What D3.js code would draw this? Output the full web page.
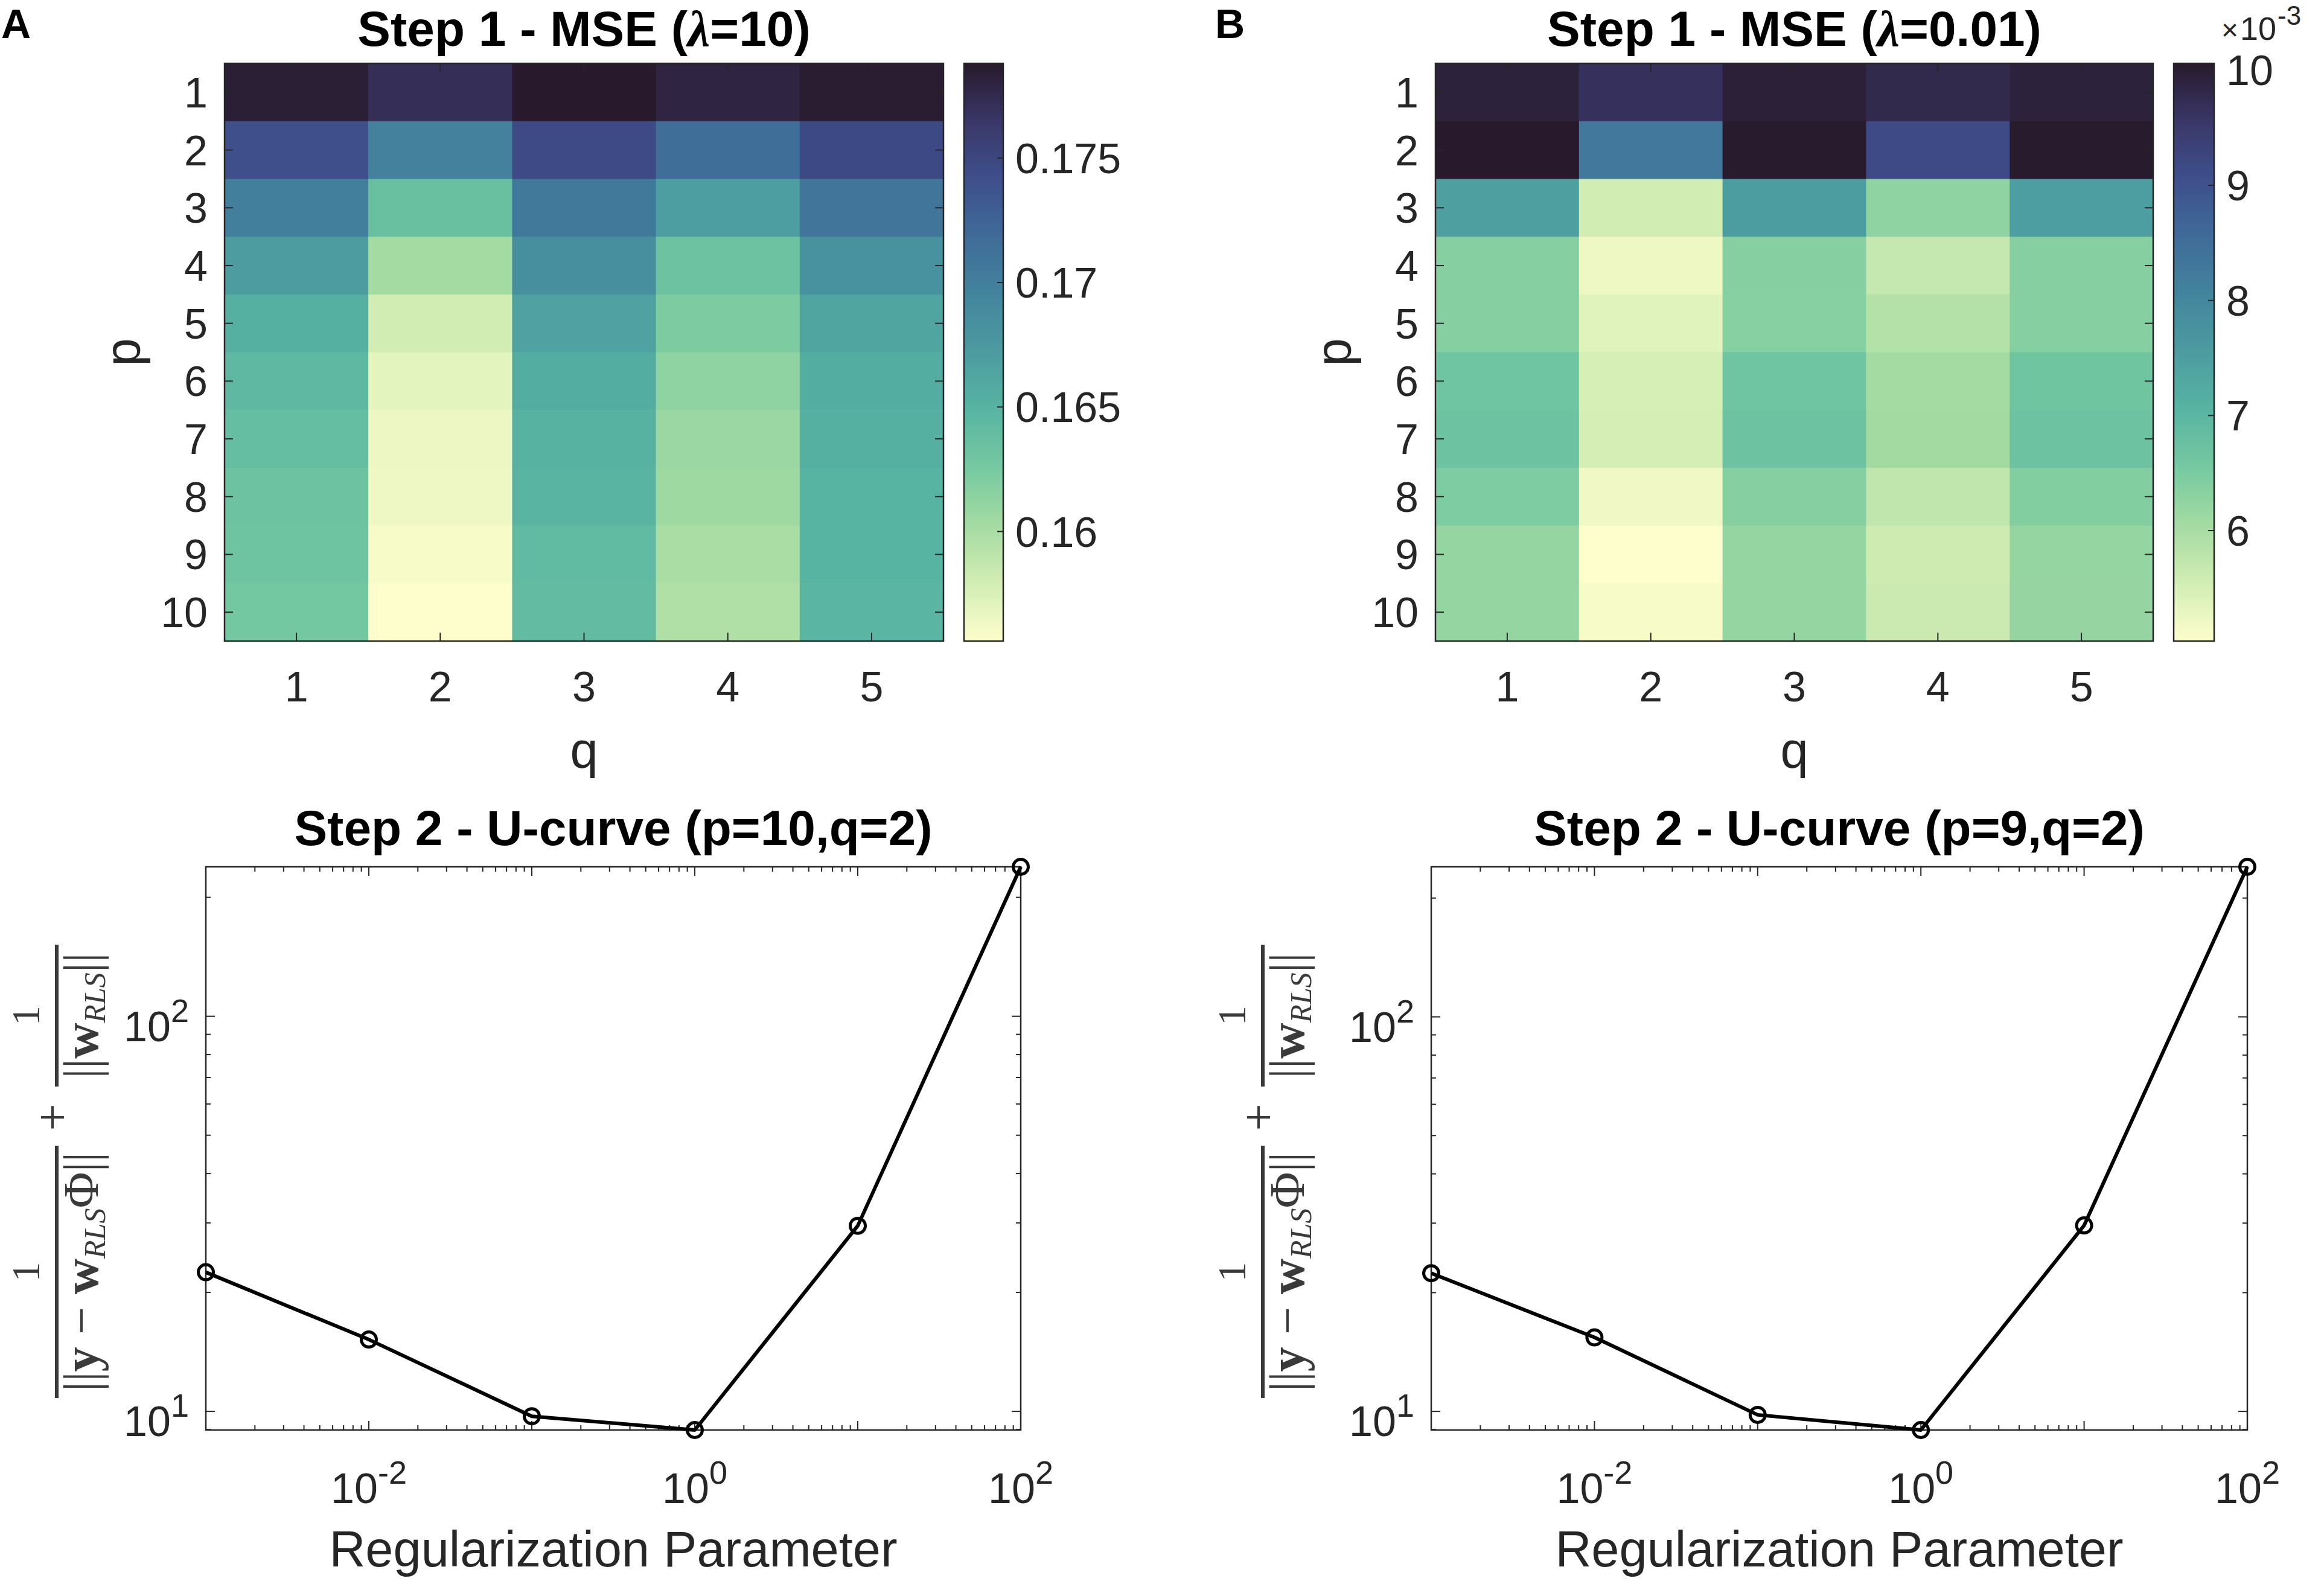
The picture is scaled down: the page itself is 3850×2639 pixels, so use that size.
<!DOCTYPE html>
<html>
<head>
<meta charset="utf-8">
<script src="https://cdn.jsdelivr.net/npm/d3@7"></script>
<style>
  body { margin: 0; background: #fff; }
  svg { display: block; }
  text { font-family: "Liberation Sans", Arial, sans-serif; fill: #262626; }
  text.serif, tspan.serif { font-family: "Liberation Serif", "DejaVu Serif", serif; }
</style>
</head>
<body>
<svg id="figura" width="3850" height="2639"></svg>
<script>
// ---------------- Dados ----------------
const pValores = [1, 2, 3, 4, 5, 6, 7, 8, 9, 10];
const qValores = [1, 2, 3, 4, 5];

// MSE passo 1, lambda = 10 (linhas p, colunas q)
const mseA = [
  [0.1784, 0.1771, 0.1788, 0.1779, 0.1786],
  [0.1742, 0.1698, 0.1746, 0.1716, 0.1747],
  [0.1700, 0.1636, 0.1705, 0.1670, 0.1708],
  [0.1672, 0.1603, 0.1685, 0.1633, 0.1682],
  [0.1653, 0.1579, 0.1666, 0.1622, 0.1663],
  [0.1644, 0.1570, 0.1656, 0.1613, 0.1656],
  [0.1638, 0.1565, 0.1651, 0.1607, 0.1653],
  [0.1633, 0.1564, 0.1648, 0.1605, 0.1649],
  [0.1632, 0.1560, 0.1642, 0.1600, 0.1649],
  [0.1628, 0.1556, 0.1640, 0.1596, 0.1647]
];

// MSE passo 1, lambda = 0.01 (em unidades de 10^-3)
const mseB = [
  [9.93, 9.66, 9.96, 9.78, 9.93],
  [10.06, 8.29, 10.05, 9.16, 10.04],
  [7.47, 5.54, 7.53, 6.26, 7.50],
  [6.38, 5.22, 6.38, 5.69, 6.38],
  [6.38, 5.37, 6.36, 5.87, 6.38],
  [6.67, 5.49, 6.67, 6.04, 6.65],
  [6.69, 5.52, 6.72, 6.07, 6.69],
  [6.46, 5.19, 6.38, 5.74, 6.40],
  [6.21, 5.04, 6.21, 5.59, 6.21],
  [6.21, 5.12, 6.21, 5.62, 6.20]
];

const ticksCorA = [0.16, 0.165, 0.17, 0.175];
const ticksCorB = [6, 7, 8, 9, 10];

// Passo 2 - curva U
const lambdas = [1e-3, 1e-2, 1e-1, 1, 10, 100];
const ucurvaA = [22.5, 15.2, 9.72, 8.97, 29.5, 239];
const ucurvaB = [22.4, 15.4, 9.8, 8.97, 29.6, 240];
const rotulosX = [-2, 0, 2];   // expoentes com rótulo no eixo x
const rotulosY = [1, 2];       // expoentes com rótulo no eixo y

// Mapa de cores (aproximação do cmocean "deep")
const mapaT = [0, 0.1, 0.2, 0.3, 0.4, 0.5, 0.6, 0.7, 0.8, 0.9, 1];
const mapaCores = ['#fdfecc', '#d2edb4', '#a4dba2', '#76c9a1', '#58b4a2', '#4c9ca0',
                   '#43849d', '#3f6b98', '#3e4f8c', '#3a3768', '#281a2c'];

const corDeep = d3.scaleLinear().domain(mapaT).range(mapaCores)
  .interpolate(d3.interpolateRgb).clamp(true);

const svg = d3.select('#figura');
const corEixo = '#262626';
const fonteTick = 70;
const fonteRotulo = 83;

// ---------------- Funções auxiliares ----------------
function titulo(cx, y, antes, italico, depois) {
  let t = svg.append('text')
    .attr('x', cx).attr('y', y)
    .attr('text-anchor', 'middle')
    .attr('font-size', 82)
    .attr('font-weight', 'bold')
    .style('fill', '#000');
  t.append('tspan').text(antes);
  if (italico) {
    t.append('tspan').attr('class', 'serif').attr('font-size', 84)
      .attr('font-style', 'italic').text(italico);
  }
  if (depois) t.append('tspan').text(depois);
}

// texto 10^e
function potencia(g, x, y, expo, ancora) {
  let t = g.append('text')
    .attr('x', x).attr('y', y)
    .attr('text-anchor', ancora)
    .attr('font-size', fonteTick);
  t.append('tspan').text('10');
  t.append('tspan').attr('font-size', 54).attr('dy', -32).text(expo);
}

// ---------------- Mapa de calor ----------------
function heatmap(cfg) {
  const { x0, x1, y0, y1, dados, cb0, cb1, ticks, fmt } = cfg;
  const g = svg.append('g');

  const x = d3.scaleBand().domain(qValores).range([x0, x1]);
  const y = d3.scaleBand().domain(pValores).range([y0, y1]);
  const ext = d3.extent(dados.flat());
  const escalaT = d3.scaleLinear().domain(ext).range([0, 1]);

  let celulas = [];
  dados.forEach((linha, i) => linha.forEach((v, j) => {
    celulas.push({ p: pValores[i], q: qValores[j], v: v });
  }));

  g.selectAll('rect.celula').data(celulas).join('rect')
    .attr('class', 'celula')
    .attr('x', d => x(d.q)).attr('y', d => y(d.p))
    .attr('width', x.bandwidth() + 0.6).attr('height', y.bandwidth() + 0.6)
    .attr('fill', d => corDeep(escalaT(d.v)));

  // ticks para dentro
  const tk = 14;
  qValores.forEach(q => {
    let cx = x(q) + x.bandwidth() / 2;
    g.append('line').attr('x1', cx).attr('x2', cx).attr('y1', y1).attr('y2', y1 - tk)
      .attr('stroke', corEixo).attr('stroke-width', 2);
    g.append('line').attr('x1', cx).attr('x2', cx).attr('y1', y0).attr('y2', y0 + tk)
      .attr('stroke', corEixo).attr('stroke-width', 2);
    g.append('text').attr('x', cx).attr('y', y1 + 100)
      .attr('text-anchor', 'middle').attr('font-size', fonteTick).text(q);
  });
  pValores.forEach(p => {
    let cy = y(p) + y.bandwidth() / 2;
    g.append('line').attr('x1', x0).attr('x2', x0 + tk).attr('y1', cy).attr('y2', cy)
      .attr('stroke', corEixo).attr('stroke-width', 2);
    g.append('line').attr('x1', x1).attr('x2', x1 - tk).attr('y1', cy).attr('y2', cy)
      .attr('stroke', corEixo).attr('stroke-width', 2);
    g.append('text').attr('x', x0 - 28).attr('y', cy + 25)
      .attr('text-anchor', 'end').attr('font-size', fonteTick).text(p);
  });

  g.append('rect').attr('x', x0).attr('y', y0).attr('width', x1 - x0).attr('height', y1 - y0)
    .attr('fill', 'none').attr('stroke', corEixo).attr('stroke-width', 2.5);

  // rótulos dos eixos
  g.append('text').attr('x', (x0 + x1) / 2).attr('y', y1 + 210)
    .attr('text-anchor', 'middle').attr('font-size', fonteRotulo).text('q');
  g.append('text')
    .attr('transform', `translate(${x0 - 140},${(y0 + y1) / 2}) rotate(-90)`)
    .attr('text-anchor', 'middle').attr('font-size', fonteRotulo).text('p');

  // barra de cores
  const id = 'grad' + Math.round(x0);
  let grad = svg.append('defs').append('linearGradient').attr('id', id)
    .attr('x1', 0).attr('y1', 1).attr('x2', 0).attr('y2', 0);
  grad.selectAll('stop').data(mapaT).join('stop')
    .attr('offset', d => d).attr('stop-color', d => corDeep(d));

  const yc = d3.scaleLinear().domain(ext).range([y1, y0]);
  g.append('rect').attr('x', cb0).attr('y', y0).attr('width', cb1 - cb0).attr('height', y1 - y0)
    .attr('fill', `url(#${id})`).attr('stroke', corEixo).attr('stroke-width', 2.5);

  ticks.forEach(v => {
    g.append('line').attr('x1', cb1).attr('x2', cb1 - 10).attr('y1', yc(v)).attr('y2', yc(v))
      .attr('stroke', corEixo).attr('stroke-width', 2);
    g.append('text').attr('x', cb1 + 20).attr('y', yc(v) + 25)
      .attr('font-size', fonteTick).text(fmt(v));
  });
}

// ---------------- Curva U ----------------
function curvaU(cfg) {
  const { x0, x1, y0, y1, valores } = cfg;
  const g = svg.append('g');

  const x = d3.scaleLog().domain([1e-3, 1e2]).range([x0, x1]);
  const y = d3.scaleLog().domain(d3.extent(valores)).range([y1, y0]);
  const [ymin, ymax] = y.domain();

  // ticks em x (maiores e menores), embaixo e em cima
  let majX = d3.range(-3, 3).map(e => Math.pow(10, e));
  let minX = [];
  d3.range(-3, 2).forEach(e => d3.range(2, 10).forEach(k => minX.push(k * Math.pow(10, e))));

  let tiquesX = majX.map(v => ({ v: v, t: 15 })).concat(minX.map(v => ({ v: v, t: 8 })));
  tiquesX.forEach(d => {
    let px = x(d.v);
    g.append('line').attr('x1', px).attr('x2', px).attr('y1', y1).attr('y2', y1 - d.t)
      .attr('stroke', corEixo).attr('stroke-width', 2);
    g.append('line').attr('x1', px).attr('x2', px).attr('y1', y0).attr('y2', y0 + d.t)
      .attr('stroke', corEixo).attr('stroke-width', 2);
  });

  // ticks em y
  let tiquesY = [];
  d3.range(0, 3).forEach(e => d3.range(1, 10).forEach(k => {
    let v = k * Math.pow(10, e);
    if (v >= ymin && v <= ymax) tiquesY.push({ v: v, t: k === 1 ? 15 : 8 });
  }));
  tiquesY.forEach(d => {
    let py = y(d.v);
    g.append('line').attr('x1', x0).attr('x2', x0 + d.t).attr('y1', py).attr('y2', py)
      .attr('stroke', corEixo).attr('stroke-width', 2);
    g.append('line').attr('x1', x1).attr('x2', x1 - d.t).attr('y1', py).attr('y2', py)
      .attr('stroke', corEixo).attr('stroke-width', 2);
  });

  g.append('rect').attr('x', x0).attr('y', y0).attr('width', x1 - x0).attr('height', y1 - y0)
    .attr('fill', 'none').attr('stroke', corEixo).attr('stroke-width', 2.5);

  rotulosX.forEach(e => potencia(g, x(Math.pow(10, e)), y1 + 121, e, 'middle'));
  rotulosY.forEach(e => potencia(g, x0 - 28, y(Math.pow(10, e)) + 41, e, 'end'));

  // linha e marcadores
  const pontos = lambdas.map((l, i) => ({ l: l, v: valores[i] }));
  const linha = d3.line().x(d => x(d.l)).y(d => y(d.v));
  g.append('path').datum(pontos).attr('d', linha)
    .attr('fill', 'none').attr('stroke', '#000').attr('stroke-width', 6)
    .attr('stroke-linejoin', 'round');
  g.selectAll('circle').data(pontos).join('circle')
    .attr('cx', d => x(d.l)).attr('cy', d => y(d.v)).attr('r', 12.5)
    .attr('fill', 'none').attr('stroke', '#000').attr('stroke-width', 5);

  g.append('text').attr('x', (x0 + x1) / 2).attr('y', y1 + 226)
    .attr('text-anchor', 'middle').attr('font-size', fonteRotulo).text('Regularization Parameter');
}

// Rótulo y em LaTeX: 1/||y - w_RLS Φ|| + 1/||w_RLS||
function rotuloFracao(cx, cy) {
  const cor = '#3a3a3a';
  let g = svg.append('g').attr('transform', `translate(${cx},${cy}) rotate(-90)`);

  function fracao(a, b, partes) {
    let meio = (a + b) / 2;
    g.append('line').attr('x1', a).attr('x2', b).attr('y1', 0).attr('y2', 0)
      .attr('stroke', cor).attr('stroke-width', 6);
    g.append('text').attr('class', 'serif').attr('x', meio).attr('y', -29)
      .attr('text-anchor', 'middle').attr('font-size', 66).style('fill', cor).text('1');
    let t = g.append('text').attr('class', 'serif').attr('x', meio).attr('y', 68)
      .attr('text-anchor', 'middle').attr('font-size', 82).style('fill', cor);
    partes.forEach(p => {
      let s = t.append('tspan').text(p.t);
      if (p.b) s.attr('font-weight', 'bold');
      if (p.i) s.attr('font-style', 'italic');
      if (p.f) s.attr('font-size', p.f);
      if (p.dy) s.attr('dy', p.dy);
    });
  }

  fracao(-376, 42, [
    { t: '||' }, { t: 'y', b: true }, { t: ' − ' }, { t: 'w', b: true },
    { t: 'RLS', i: true, f: 50, dy: 12 }, { t: 'Φ', dy: -12 }, { t: '||' }
  ]);
  g.append('text').attr('class', 'serif').attr('x', 89).attr('y', 20).attr('text-anchor', 'middle')
    .attr('font-size', 80).style('fill', cor).text('+');
  fracao(140, 375, [
    { t: '||' }, { t: 'w', b: true }, { t: 'RLS', i: true, f: 50, dy: 12 }, { t: '||', dy: -12 }
  ]);
}

// ---------------- Montagem ----------------
svg.append('text').attr('x', 2).attr('y', 63).attr('font-size', 68)
  .attr('font-weight', 'bold').style('fill', '#000').text('A');
svg.append('text').attr('x', 2013).attr('y', 63).attr('font-size', 68)
  .attr('font-weight', 'bold').style('fill', '#000').text('B');

heatmap({ x0: 372, x1: 1563, y0: 105, y1: 1062, dados: mseA,
  cb0: 1597, cb1: 1662, ticks: ticksCorA, fmt: d3.format('') });
titulo((372 + 1563) / 2, 76, 'Step 1 - MSE (', 'λ', '=10)');

heatmap({ x0: 2378, x1: 3567, y0: 105, y1: 1062, dados: mseB,
  cb0: 3601, cb1: 3668, ticks: ticksCorB, fmt: d3.format('') });
titulo((2378 + 3567) / 2, 76, 'Step 1 - MSE (', 'λ', '=0.01)');

// multiplicador da barra de cores B
let mult = svg.append('text').attr('x', 3680).attr('y', 66).attr('font-size', 54);
mult.append('tspan').attr('font-size', 48).text('×');
mult.append('tspan').attr('dx', 3).text('10');
mult.append('tspan').attr('font-size', 44).attr('dx', 2).attr('dy', -25).text('-3');

curvaU({ x0: 341, x1: 1691, y0: 1436, y1: 2369, valores: ucurvaA });
titulo((341 + 1691) / 2, 1400, 'Step 2 - U-curve (p=10,q=2)', '', '');
rotuloFracao(94, 1940);

curvaU({ x0: 2371, x1: 3723, y0: 1436, y1: 2369, valores: ucurvaB });
titulo((2371 + 3723) / 2, 1400, 'Step 2 - U-curve (p=9,q=2)', '', '');
rotuloFracao(2092, 1940);
</script>
</body>
</html>
